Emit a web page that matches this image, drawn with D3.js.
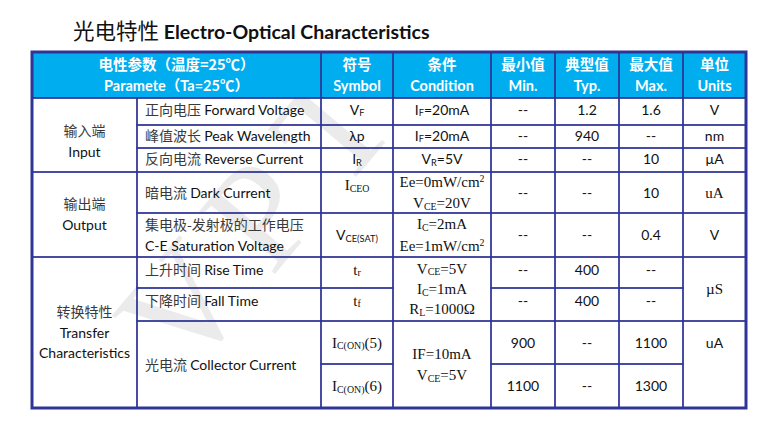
<!DOCTYPE html>
<html>
<head>
<meta charset="utf-8">
<script src="https://cdn.jsdelivr.net/npm/d3@7"></script>
<style>
  body { margin: 0; background: #fff; }
  svg { display: block; }
</style>
</head>
<body>
<div id="eo-table"></div>
<script>
// Electro-optical characteristics table

const title_cn = "光电特性";
const title_en = "Electro-Optical Characteristics";

const header_cn = ["电性参数（温度=25℃）", "符号", "条件", "最小值", "典型值", "最大值", "单位"];
const header_en = ["Paramete（Ta=25℃）", "Symbol", "Condition", "Min.", "Typ.", "Max.", "Units"];

const group_cn = ["输入端", "输出端", "转换特性"];
const group_en = [["Input"], ["Output"], ["Transfer", "Characteristics"]];
const group_rows = [3, 2, 4];

const param_cn = ["正向电压", "峰值波长", "反向电流", "暗电流", "集电极-发射极的工作电压", "上升时间", "下降时间", "光电流"];
const param_en = ["Forward Voltage", "Peak Wavelength", "Reverse Current", "Dark Current", "C-E Saturation Voltage", "Rise Time", "Fall Time", "Collector Current"];
const param_rows = [1, 1, 1, 1, 1, 1, 1, 2];

const symbols = ["V_{F}", "λp", "I_{R}", "I_{CEO}", "V_{CE(SAT)}", "t_{r}", "t_{f}", "I_{C(ON)}(5)", "I_{C(ON)}(6)"];

const conditions = [["I_{F}=20mA"], ["I_{F}=20mA"], ["V_{R}=5V"],
  ["Ee=0mW/cm^{2}", "V_{CE}=20V"], ["I_{C}=2mA", "Ee=1mW/cm^{2}"],
  ["V_{CE}=5V", "I_{C}=1mA", "R_{L}=1000Ω"], ["IF=10mA", "V_{CE}=5V"]];
const condition_rows = [1, 1, 1, 1, 1, 2, 2];

const min_values = ["--", "--", "--", "--", "--", "--", "--", "900", "1100"];
const typ_values = ["1.2", "940", "--", "--", "--", "400", "400", "--", "--"];
const max_values = ["1.6", "--", "10", "10", "0.4", "--", "--", "1100", "1300"];

const units = ["V", "nm", "µA", "uA", "V", "µS", "uA"];
const unit_rows = [1, 1, 1, 1, 1, 2, 2];

(function () {
  const W = 775, H = 442;

  // layout of the grid (column / row edges in px)
  const colEdges = [32, 137, 321, 393, 491, 555, 619, 683, 746];
  const rowEdges = [52, 98, 125, 148, 172, 213, 257, 288, 321, 364, 408];
  const x = d3.scaleLinear().domain(d3.range(colEdges.length)).range(colEdges);
  const y = d3.scaleLinear().domain(d3.range(rowEdges.length)).range(rowEdges);

  const sans = "Lato, 'Noto Sans CJK SC', sans-serif";
  const serif = "'Liberation Serif', 'Times New Roman', serif";
  const cjk = "'Noto Sans CJK SC', sans-serif";
  const lineColor = "#2e3596";
  const headFill = "#00aeef";
  const ink = "#111";

  // which cells are set in Times-like type
  const serifSymbol = new Set([3, 5, 6, 7, 8]);
  const serifCond = new Set([3, 4, 5, 6]);
  const serifUnit = new Set([3, 5]);

  // small vertical nudges
  const rowNudge = { 1: -2, 2: -1, 3: -1, 6: -3, 7: -4 };

  const svg = d3.select("#eo-table").append("svg")
    .attr("width", W).attr("height", H)
    .attr("viewBox", `0 0 ${W} ${H}`);

  svg.append("rect").attr("width", W).attr("height", H).attr("fill", "#fff");

  // watermark
  svg.append("text")
    .attr("transform", "translate(262,210) rotate(-50)")
    .attr("text-anchor", "middle")
    .attr("dominant-baseline", "central")
    .attr("font-family", serif)
    .attr("font-size", 150)
    .attr("fill", "#ebebeb")
    .attr("letter-spacing", 25)
    .text("VPT");

  // title
  const t = svg.append("text").attr("x", 73).attr("y", 39).attr("fill", ink);
  t.append("tspan").attr("font-family", cjk).attr("font-size", 21.5).text(title_cn + " ");
  t.append("tspan").attr("font-family", sans).attr("font-weight", "bold").attr("font-size", 19.5).text(title_en);

  // rich text: _{sub} and ^{sup}
  function rich(sel, str) {
    const re = /([_^])\{([^}]*)\}/g;
    const parts = [];
    let last = 0, m;
    while ((m = re.exec(str)) !== null) {
      if (m.index > last) parts.push({ t: str.slice(last, m.index), k: "" });
      parts.push({ t: m[2], k: m[1] });
      last = re.lastIndex;
    }
    if (last < str.length) parts.push({ t: str.slice(last), k: "" });
    let cur = 0;
    parts.forEach(p => {
      const target = p.k === "_" ? 1.5 : p.k === "^" ? -5 : 0;
      const ts = sel.append("tspan").attr("dy", target - cur).text(p.t);
      if (p.k) ts.attr("font-size", "0.66em");
      cur = target;
    });
  }

  // build cell list from the arrays
  const cells = [];
  cells.push({ c: 0, cs: 2, r: 0, rs: 1, head: [header_cn[0], header_en[0]] });
  for (let i = 1; i < header_cn.length; i++) {
    cells.push({ c: i + 1, cs: 1, r: 0, rs: 1, head: [header_cn[i], header_en[i]] });
  }

  let r = 1;
  group_rows.forEach((n, i) => {
    cells.push({ c: 0, cs: 1, r: r, rs: n, group: i });
    r += n;
  });
  r = 1;
  param_rows.forEach((n, i) => {
    cells.push({ c: 1, cs: 1, r: r, rs: n, param: i });
    r += n;
  });
  symbols.forEach((s, i) => {
    cells.push({ c: 2, cs: 1, r: i + 1, rs: 1, lines: [s], font: serifSymbol.has(i) ? serif : sans,
      size: serifSymbol.has(i) ? 15 : 14, nudge: i === 3 ? -7.5 : 0 });
  });
  r = 1;
  condition_rows.forEach((n, i) => {
    cells.push({ c: 3, cs: 1, r: r, rs: n, lines: conditions[i], font: serifCond.has(i) ? serif : sans,
      size: serifCond.has(i) ? 15 : 14 });
    r += n;
  });
  [min_values, typ_values, max_values].forEach((vals, k) => {
    vals.forEach((v, i) => {
      cells.push({ c: 4 + k, cs: 1, r: i + 1, rs: 1, lines: [v], font: sans, size: 14 });
    });
  });
  r = 1;
  unit_rows.forEach((n, i) => {
    cells.push({ c: 7, cs: 1, r: r, rs: n, lines: [units[i]], font: serifUnit.has(i) ? serif : sans,
      size: serifUnit.has(i) ? 15 : 14, nudge: i === 6 ? -21.5 : 0 });
    r += n;
  });

  // header band
  svg.append("rect")
    .attr("x", x(0)).attr("y", y(0))
    .attr("width", x(8) - x(0)).attr("height", y(1) - y(0))
    .attr("fill", headFill);

  // cell borders
  svg.append("g").selectAll("rect")
    .data(cells)
    .enter()
    .append("rect")
    .attr("x", d => x(d.c))
    .attr("y", d => y(d.r))
    .attr("width", d => x(d.c + d.cs) - x(d.c))
    .attr("height", d => y(d.r + d.rs) - y(d.r))
    .attr("fill", "none")
    .attr("stroke", lineColor)
    .attr("stroke-width", 1.3);

  const txt = svg.append("g");

  cells.forEach(d => {
    const cx = (x(d.c) + x(d.c + d.cs)) / 2;
    let cy = (y(d.r) + y(d.r + d.rs)) / 2;
    if (d.rs === 1 && rowNudge[d.r]) cy += rowNudge[d.r];
    if (d.nudge) cy += d.nudge;

    if (d.head) {
      txt.append("text").attr("x", cx).attr("y", 64.5 + 5)
        .attr("text-anchor", "middle").attr("fill", "#fff")
        .attr("font-family", cjk).attr("font-weight", "bold").attr("font-size", 14.5)
        .text(d.head[0]);
      txt.append("text").attr("x", cx).attr("y", 86 + 5)
        .attr("text-anchor", "middle").attr("fill", "#fff")
        .attr("font-family", sans).attr("font-weight", "bold").attr("font-size", 14.5)
        .text(d.head[1]);
      return;
    }

    if (d.group !== undefined) {
      const lines = [group_cn[d.group]].concat(group_en[d.group]);
      const off = d.group === 0 ? 6 : 0;
      lines.forEach((s, j) => {
        const ly = cy + off + (j - (lines.length - 1) / 2) * (lines.length > 2 ? 20.3 : 21) + 5;
        txt.append("text").attr("x", cx).attr("y", ly)
          .attr("text-anchor", "middle")
          .attr("font-family", j === 0 ? cjk : sans)
          .attr("font-size", 14)
          .attr("fill", j === 0 ? "#3a3a3a" : ink)
          .text(s);
      });
      return;
    }

    if (d.param !== undefined) {
      const px = x(d.c) + 8;
      const i = d.param;
      if (i === 4) {
        txt.append("text").attr("x", px).attr("y", cy - 10.5 + 5)
          .attr("font-family", cjk).attr("font-size", 14).attr("fill", "#3a3a3a")
          .text(param_cn[i]);
        txt.append("text").attr("x", px).attr("y", cy + 10.5 + 5)
          .attr("font-family", sans).attr("font-size", 14).attr("fill", ink)
          .text(param_en[i]);
      } else {
        const tt = txt.append("text").attr("x", px).attr("y", cy + 5).attr("font-size", 14);
        tt.append("tspan").attr("font-family", cjk).attr("fill", "#3a3a3a").text(param_cn[i] + " ");
        tt.append("tspan").attr("font-family", sans).attr("fill", ink).text(param_en[i]);
      }
      return;
    }

    d.lines.forEach((s, j) => {
      const step = d.lines.length > 2 ? 20.3 : 21.5;
      const ly = cy + (j - (d.lines.length - 1) / 2) * step + 5;
      const tt = txt.append("text").attr("x", cx).attr("y", ly)
        .attr("text-anchor", "middle")
        .attr("font-family", d.font)
        .attr("font-size", d.size)
        .attr("fill", ink);
      rich(tt, s);
    });
  });

  // outer frame
  svg.append("rect")
    .attr("x", x(0)).attr("y", y(0))
    .attr("width", x(8) - x(0)).attr("height", y(10) - y(0))
    .attr("fill", "none")
    .attr("stroke", lineColor)
    .attr("stroke-width", 3);
})();
</script>
</body>
</html>
